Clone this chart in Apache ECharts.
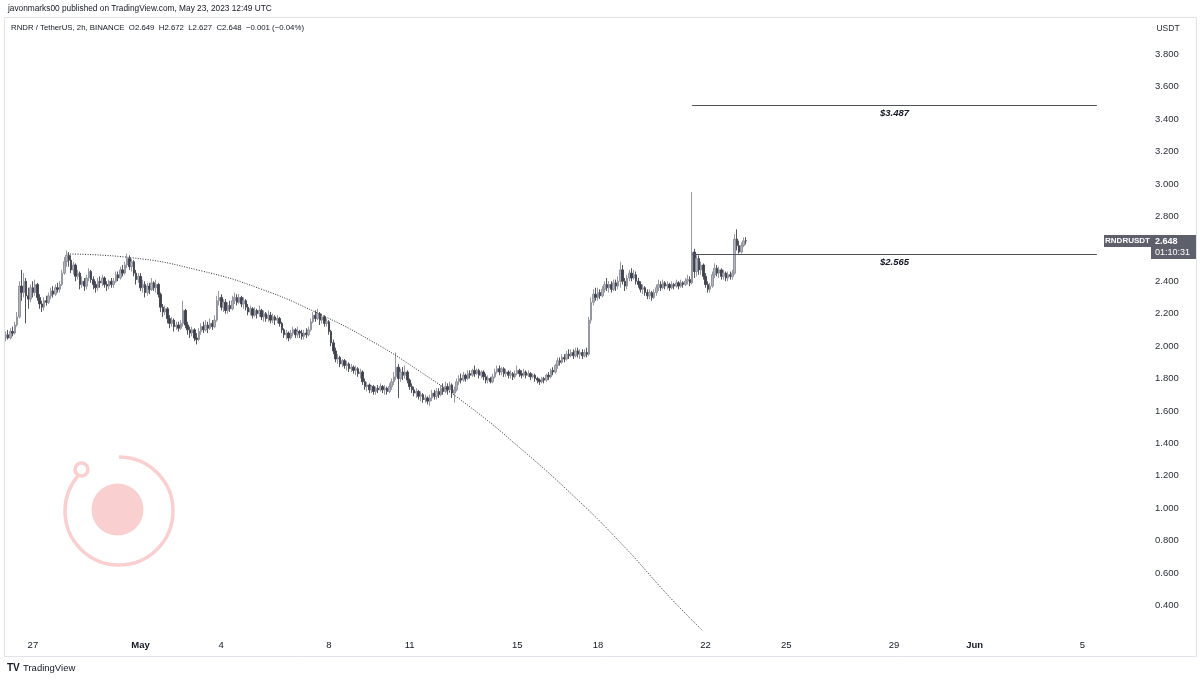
<!DOCTYPE html>
<html><head><meta charset="utf-8">
<script src="https://cdn.jsdelivr.net/npm/echarts@6/dist/echarts.min.js"></script>
<style>html,body{margin:0;padding:0;background:#fff}#c{width:1200px;height:680px}</style>
</head><body><div id="c"></div>
<script>
// 2h candles, hour 0 = 26 Apr 2023 00:00 UTC ; each row = one day, items [open, close, low, high]
const firstHour = 0;
const stepHours = 2;
const candles = [
// Apr 26
[2.05,2.07,2.03,2.09],[2.07,2.05,2.04,2.10],[2.05,2.09,2.04,2.11],[2.09,2.08,2.06,2.12],[2.08,2.13,2.07,2.15],[2.13,2.18,2.12,2.21],
[2.18,2.37,2.17,2.40],[2.37,2.33,2.28,2.47],[2.33,2.40,2.30,2.45],[2.40,2.31,2.14,2.42],[2.31,2.29,2.23,2.36],[2.29,2.36,2.27,2.38],
// Apr 27
[2.36,2.33,2.30,2.40],[2.33,2.38,2.31,2.41],[2.38,2.30,2.28,2.39],[2.30,2.26,2.23,2.32],[2.26,2.24,2.21,2.28],[2.24,2.28,2.22,2.30],
[2.28,2.27,2.25,2.31],[2.27,2.31,2.26,2.33],[2.31,2.34,2.29,2.36],[2.34,2.32,2.30,2.37],[2.32,2.36,2.31,2.38],[2.36,2.35,2.33,2.39],
// Apr 28
[2.35,2.38,2.33,2.40],[2.38,2.45,2.37,2.47],[2.45,2.52,2.44,2.55],[2.52,2.56,2.49,2.59],[2.56,2.53,2.49,2.58],[2.53,2.47,2.45,2.56],
[2.47,2.50,2.44,2.52],[2.50,2.43,2.40,2.51],[2.43,2.45,2.41,2.47],[2.45,2.38,2.35,2.46],[2.38,2.40,2.36,2.43],[2.40,2.37,2.34,2.42],
// Apr 29
[2.37,2.42,2.35,2.44],[2.42,2.46,2.40,2.48],[2.46,2.41,2.39,2.47],[2.41,2.38,2.35,2.43],[2.38,2.36,2.33,2.40],[2.36,2.40,2.34,2.42],
[2.40,2.39,2.36,2.43],[2.39,2.42,2.37,2.44],[2.42,2.38,2.36,2.43],[2.38,2.37,2.34,2.40],[2.37,2.40,2.35,2.41],[2.40,2.38,2.36,2.42],
// Apr 30
[2.38,2.40,2.36,2.42],[2.40,2.44,2.39,2.46],[2.44,2.42,2.40,2.46],[2.42,2.47,2.41,2.49],[2.47,2.45,2.43,2.50],[2.45,2.50,2.44,2.52],
[2.50,2.54,2.48,2.57],[2.54,2.49,2.47,2.56],[2.49,2.52,2.46,2.54],[2.52,2.45,2.43,2.53],[2.45,2.41,2.38,2.47],[2.41,2.43,2.39,2.45],
// May 1
[2.43,2.36,2.34,2.45],[2.36,2.38,2.33,2.41],[2.38,2.33,2.30,2.40],[2.33,2.37,2.31,2.39],[2.37,2.35,2.32,2.39],[2.35,2.39,2.34,2.42],
[2.39,2.36,2.34,2.40],[2.36,2.38,2.33,2.41],[2.38,2.32,2.30,2.39],[2.32,2.24,2.21,2.33],[2.24,2.21,2.18,2.26],[2.21,2.23,2.19,2.25],
// May 2
[2.23,2.17,2.14,2.24],[2.17,2.14,2.11,2.19],[2.14,2.16,2.12,2.18],[2.16,2.12,2.09,2.17],[2.12,2.13,2.10,2.15],[2.13,2.11,2.09,2.15],
[2.11,2.14,2.10,2.16],[2.14,2.22,2.12,2.28],[2.22,2.13,2.11,2.23],[2.13,2.10,2.07,2.15],[2.10,2.08,2.05,2.12],[2.08,2.10,2.06,2.12],
// May 3
[2.10,2.05,2.03,2.11],[2.05,2.04,2.01,2.08],[2.04,2.09,2.03,2.11],[2.09,2.12,2.07,2.14],[2.12,2.10,2.08,2.15],[2.10,2.13,2.09,2.16],
[2.13,2.11,2.08,2.15],[2.11,2.14,2.10,2.17],[2.14,2.12,2.10,2.16],[2.12,2.16,2.11,2.19],[2.16,2.28,2.15,2.31],[2.28,2.30,2.25,2.34],
// May 4
[2.30,2.24,2.22,2.32],[2.24,2.27,2.21,2.29],[2.27,2.22,2.20,2.29],[2.22,2.25,2.20,2.27],[2.25,2.23,2.21,2.28],[2.23,2.28,2.22,2.31],
[2.28,2.30,2.26,2.33],[2.30,2.27,2.25,2.32],[2.27,2.30,2.26,2.32],[2.30,2.26,2.24,2.31],[2.26,2.28,2.23,2.30],[2.28,2.24,2.22,2.29],
// May 5
[2.24,2.21,2.19,2.26],[2.21,2.23,2.19,2.25],[2.23,2.19,2.17,2.24],[2.19,2.22,2.18,2.24],[2.22,2.20,2.17,2.23],[2.20,2.22,2.18,2.25],
[2.22,2.18,2.16,2.23],[2.18,2.20,2.15,2.22],[2.20,2.17,2.15,2.21],[2.17,2.19,2.15,2.22],[2.19,2.16,2.14,2.21],[2.16,2.18,2.14,2.20],
// May 6
[2.18,2.16,2.13,2.19],[2.16,2.17,2.14,2.19],[2.17,2.14,2.12,2.18],[2.14,2.10,2.08,2.15],[2.10,2.07,2.05,2.11],[2.07,2.08,2.04,2.10],
[2.08,2.05,2.03,2.09],[2.05,2.08,2.04,2.10],[2.08,2.10,2.06,2.12],[2.10,2.07,2.05,2.11],[2.07,2.09,2.05,2.12],[2.09,2.08,2.05,2.10],
// May 7
[2.08,2.06,2.04,2.10],[2.06,2.08,2.04,2.10],[2.08,2.07,2.05,2.11],[2.07,2.10,2.06,2.12],[2.10,2.15,2.09,2.17],[2.15,2.19,2.14,2.21],
[2.19,2.17,2.15,2.22],[2.17,2.20,2.16,2.23],[2.20,2.16,2.13,2.21],[2.16,2.18,2.14,2.20],[2.18,2.14,2.12,2.19],[2.14,2.15,2.12,2.17],
// May 8
[2.15,2.09,2.07,2.16],[2.09,2.02,2.00,2.10],[2.02,1.97,1.95,2.04],[1.97,1.92,1.90,1.99],[1.92,1.93,1.89,1.95],[1.93,1.89,1.87,1.94],
[1.89,1.91,1.87,1.92],[1.91,1.88,1.86,1.92],[1.88,1.89,1.85,1.91],[1.89,1.86,1.84,1.90],[1.86,1.87,1.84,1.89],[1.87,1.85,1.83,1.88],
// May 9
[1.85,1.86,1.82,1.88],[1.86,1.83,1.81,1.87],[1.83,1.84,1.80,1.86],[1.84,1.78,1.76,1.85],[1.78,1.75,1.73,1.80],[1.75,1.76,1.72,1.78],
[1.76,1.73,1.71,1.77],[1.73,1.75,1.71,1.76],[1.75,1.72,1.70,1.76],[1.72,1.74,1.70,1.75],[1.74,1.73,1.71,1.76],[1.73,1.75,1.72,1.77],
// May 10
[1.75,1.73,1.71,1.76],[1.73,1.74,1.70,1.76],[1.74,1.72,1.70,1.75],[1.72,1.75,1.71,1.77],[1.75,1.78,1.73,1.80],[1.78,1.81,1.76,1.84],
[1.81,1.87,1.79,1.96],[1.87,1.80,1.68,1.89],[1.80,1.84,1.78,1.86],[1.84,1.82,1.79,1.87],[1.82,1.84,1.80,1.88],[1.84,1.79,1.77,1.85],
// May 11
[1.79,1.75,1.73,1.80],[1.75,1.73,1.71,1.77],[1.73,1.71,1.69,1.75],[1.71,1.72,1.68,1.74],[1.72,1.69,1.67,1.73],[1.69,1.70,1.66,1.72],
[1.70,1.67,1.65,1.71],[1.67,1.68,1.65,1.70],[1.68,1.66,1.64,1.69],[1.66,1.68,1.63,1.70],[1.68,1.71,1.66,1.73],[1.71,1.69,1.67,1.73],
// May 12
[1.69,1.72,1.67,1.74],[1.72,1.70,1.68,1.74],[1.70,1.74,1.69,1.76],[1.74,1.72,1.70,1.77],[1.72,1.75,1.71,1.78],[1.75,1.73,1.70,1.77],
[1.73,1.76,1.71,1.78],[1.76,1.71,1.68,1.77],[1.71,1.73,1.65,1.75],[1.73,1.78,1.72,1.80],[1.78,1.80,1.76,1.82],[1.80,1.79,1.77,1.83],
// May 13
[1.79,1.82,1.78,1.84],[1.82,1.80,1.78,1.83],[1.80,1.83,1.79,1.85],[1.83,1.82,1.80,1.85],[1.82,1.85,1.81,1.86],[1.85,1.83,1.81,1.88],
[1.83,1.85,1.82,1.86],[1.85,1.82,1.80,1.86],[1.82,1.84,1.80,1.85],[1.84,1.81,1.79,1.85],[1.81,1.79,1.77,1.83],[1.79,1.80,1.77,1.82],
// May 14
[1.80,1.78,1.77,1.81],[1.78,1.81,1.77,1.83],[1.81,1.84,1.80,1.86],[1.84,1.86,1.83,1.88],[1.86,1.84,1.82,1.88],[1.84,1.86,1.82,1.87],
[1.86,1.83,1.81,1.87],[1.83,1.84,1.81,1.86],[1.84,1.82,1.80,1.85],[1.82,1.83,1.80,1.85],[1.83,1.81,1.79,1.84],[1.81,1.83,1.80,1.85],
// May 15
[1.83,1.85,1.82,1.88],[1.85,1.83,1.81,1.86],[1.83,1.82,1.80,1.85],[1.82,1.84,1.81,1.86],[1.84,1.82,1.80,1.85],[1.82,1.83,1.81,1.85],
[1.83,1.81,1.79,1.84],[1.81,1.82,1.80,1.83],[1.82,1.80,1.78,1.83],[1.80,1.79,1.77,1.81],[1.79,1.78,1.76,1.80],[1.78,1.80,1.77,1.81],
// May 16
[1.80,1.79,1.77,1.81],[1.79,1.82,1.78,1.83],[1.82,1.81,1.79,1.84],[1.81,1.85,1.80,1.86],[1.85,1.84,1.82,1.87],[1.84,1.88,1.83,1.89],
[1.88,1.91,1.86,1.93],[1.91,1.90,1.88,1.93],[1.90,1.93,1.89,1.95],[1.93,1.92,1.90,1.95],[1.92,1.95,1.91,1.97],[1.95,1.94,1.92,1.98],
// May 17
[1.94,1.96,1.93,1.98],[1.96,1.94,1.92,1.98],[1.94,1.97,1.93,1.99],[1.97,1.95,1.93,1.99],[1.95,1.96,1.92,1.98],[1.96,1.94,1.92,1.98],
[1.94,1.96,1.93,1.98],[1.96,1.95,1.93,1.99],[1.95,2.16,1.94,2.18],[2.16,2.27,2.14,2.30],[2.27,2.32,2.25,2.35],[2.32,2.30,2.28,2.36],
// May 18
[2.30,2.33,2.28,2.36],[2.33,2.31,2.29,2.35],[2.31,2.35,2.30,2.37],[2.35,2.38,2.33,2.40],[2.38,2.36,2.34,2.42],[2.36,2.38,2.33,2.40],
[2.38,2.35,2.33,2.40],[2.35,2.39,2.34,2.41],[2.39,2.37,2.34,2.41],[2.37,2.40,2.35,2.43],[2.40,2.47,2.36,2.52],[2.47,2.40,2.38,2.50],
// May 19
[2.40,2.37,2.34,2.42],[2.37,2.42,2.35,2.44],[2.42,2.45,2.40,2.47],[2.45,2.42,2.40,2.48],[2.42,2.44,2.41,2.47],[2.44,2.40,2.38,2.46],
[2.40,2.38,2.36,2.42],[2.38,2.35,2.33,2.40],[2.35,2.36,2.32,2.38],[2.36,2.33,2.31,2.37],[2.33,2.31,2.29,2.35],[2.31,2.33,2.29,2.35],
// May 20
[2.33,2.30,2.28,2.34],[2.30,2.33,2.29,2.35],[2.33,2.36,2.31,2.38],[2.36,2.38,2.34,2.41],[2.38,2.36,2.34,2.40],[2.36,2.39,2.35,2.41],
[2.39,2.37,2.35,2.40],[2.37,2.38,2.35,2.40],[2.38,2.36,2.34,2.39],[2.36,2.38,2.35,2.40],[2.38,2.37,2.35,2.39],[2.37,2.39,2.36,2.41],
// May 21
[2.39,2.37,2.35,2.40],[2.37,2.39,2.36,2.41],[2.39,2.38,2.36,2.40],[2.38,2.40,2.37,2.42],[2.40,2.41,2.38,2.44],[2.41,2.39,2.37,2.43],
[2.39,2.58,2.38,2.95],[2.58,2.46,2.42,2.60],[2.46,2.54,2.43,2.57],[2.54,2.47,2.44,2.56],[2.47,2.50,2.44,2.52],[2.50,2.43,2.41,2.51],
// May 22
[2.43,2.38,2.36,2.45],[2.38,2.35,2.33,2.40],[2.35,2.37,2.33,2.39],[2.37,2.44,2.36,2.46],[2.44,2.48,2.42,2.51],[2.48,2.45,2.43,2.50],
[2.45,2.47,2.42,2.49],[2.47,2.43,2.41,2.48],[2.43,2.45,2.41,2.47],[2.45,2.42,2.40,2.46],[2.42,2.44,2.40,2.46],[2.44,2.43,2.41,2.46],
// May 23 (to 12:00)
[2.43,2.45,2.41,2.47],[2.45,2.66,2.44,2.69],[2.66,2.62,2.59,2.72],[2.62,2.58,2.57,2.65],[2.58,2.62,2.57,2.64],[2.62,2.649,2.61,2.67],
[2.649,2.648,2.627,2.672]
];

// axis ticks
const priceTicks = [0.4,0.6,0.8,1.0,1.2,1.4,1.6,1.8,2.0,2.2,2.4,2.6,2.8,3.0,3.2,3.4,3.6,3.8];
const timeTickHours = [24,120,192,288,360,456,528,624,696,792,864,960];
const timeTickLabels = ['27','May','4','8','11','15','18','22','25','29','Jun','5'];
const boldTickLabels = ['May','Jun'];

// horizontal levels drawn by the author
const levelPrices = [3.487, 2.565];
const levelLabels = ['$3.487', '$2.565'];
const levelStartHour = 612;
const levelEndHour = 973;

// dotted curve drawn by the author
const curveHours  = [55, 111, 173, 227, 278, 325, 369, 414, 458, 503, 548, 592, 622];
const curvePrices = [2.568, 2.546, 2.466, 2.353, 2.203, 2.035, 1.844, 1.624, 1.374, 1.096, 0.788, 0.451, 0.24];

const lastClose = 2.648;
const headerTitle = 'javonmarks00 published on TradingView.com, May 23, 2023 12:49 UTC';
const legendLine = 'RNDR / TetherUS, 2h, BINANCE  O2.649  H2.672  L2.627  C2.648  \u22120.001 (\u22120.04%)';

const FONT = 'Liberation Sans, Arial, sans-serif';
const TXT = '#131722';

const chart = echarts.init(document.getElementById('c'), null, {renderer: 'canvas'});
const candleData = candles.map((c, i) => [firstHour + i * stepHours, c[0], c[1], c[2], c[3]]);

const levelLines = levelPrices.map((p, i) => [
  {coord: [levelStartHour, p], label: {formatter: levelLabels[i]}},
  {coord: [levelEndHour, p]}
]);

chart.setOption({
  animation: false,
  backgroundColor: '#ffffff',
  grid: {left: 6, right: 102, top: 18, bottom: 48},
  xAxis: {
    type: 'value', min: 0, max: 974,
    axisLine: {show: false}, axisTick: {show: false}, splitLine: {show: false},
    axisLabel: {
      customValues: timeTickHours,
      margin: 8,
      fontFamily: FONT, fontSize: 9.5, color: TXT,
      formatter: v => {
        const k = timeTickHours.indexOf(v);
        if (k < 0) return '';
        const t = timeTickLabels[k];
        return boldTickLabels.includes(t) ? '{b|' + t + '}' : t;
      },
      rich: {b: {fontWeight: 'bold', fontFamily: FONT, fontSize: 9.5, color: TXT}}
    }
  },
  yAxis: {
    type: 'value', position: 'right', min: 0.236, max: 4.024, scale: true,
    axisLine: {show: false}, axisTick: {show: false}, splitLine: {show: false},
    axisLabel: {
      customValues: priceTicks,
      margin: 57,
      fontFamily: FONT, fontSize: 9.5, color: '#2a2e39',
      formatter: v => v.toFixed(3)
    }
  },
  series: [
    {
      type: 'candlestick',
      data: candleData,
      encode: {x: 0, y: [1, 2, 3, 4]},
      barWidth: 2,
      itemStyle: {
        color: '#b2b5bd', borderColor: '#8c8f98',
        color0: '#3f424d', borderColor0: '#3f424d',
        borderWidth: 0.9
      }
    },
    {
      type: 'line',
      data: curveHours.map((h, i) => [h, curvePrices[i]]),
      smooth: 0.5, symbol: 'none',
      lineStyle: {color: '#2e2e2e', width: 1, type: [1, 1.5]},
      z: 3
    },
    {
      type: 'line', data: [], symbol: 'none',
      markLine: {
        silent: true, symbol: 'none',
        lineStyle: {color: '#50535e', width: 1, type: 'solid'},
        label: {
          position: 'insideMiddleBottom', distance: 3,
          fontFamily: FONT, fontSize: 9.5, fontWeight: 'bold', fontStyle: 'italic', color: TXT
        },
        data: levelLines
      }
    }
  ]
});

const yLast = chart.convertToPixel({yAxisIndex: 0}, lastClose);

chart.setOption({
  graphic: [
    {type: 'rect', shape: {x: 4.5, y: 17.5, width: 1192, height: 639}, style: {fill: null, stroke: '#e0e3eb', lineWidth: 1}, silent: true, z: 0},
    {type: 'text', left: 8, top: 5, style: {text: headerTitle, font: '8.3px ' + FONT, fill: TXT}},
    {type: 'text', left: 11, top: 24, style: {text: legendLine, font: '7.8px ' + FONT, fill: TXT}},
    {type: 'text', x: 1168, y: 29, style: {text: 'USDT', font: '8.5px ' + FONT, fill: '#2a2e39', align: 'center', verticalAlign: 'middle'}},
    // price tag
    {type: 'rect', shape: {x: 1104, y: yLast - 6, width: 47, height: 12}, style: {fill: '#5d606b'}, z: 10},
    {type: 'text', x: 1127.5, y: yLast, style: {text: 'RNDRUSDT', font: 'bold 8px ' + FONT, fill: '#fff', align: 'center', verticalAlign: 'middle'}, z: 11},
    {type: 'rect', shape: {x: 1151, y: yLast - 6, width: 45, height: 24}, style: {fill: '#5d606b'}, z: 10},
    {type: 'text', x: 1155, y: yLast, style: {text: '2.648', font: 'bold 9px ' + FONT, fill: '#fff', align: 'left', verticalAlign: 'middle'}, z: 11},
    {type: 'text', x: 1155, y: yLast + 11.5, style: {text: '01:10:31', font: '9px ' + FONT, fill: '#fff', align: 'left', verticalAlign: 'middle'}, z: 11},
    // watermark logo
    {type: 'arc', shape: {cx: 119, cy: 511, r: 54, startAngle: -Math.PI / 2, endAngle: 3.86, clockwise: true}, style: {stroke: '#f9cfcf', lineWidth: 3.5, fill: null}, z: 0},
    {type: 'circle', shape: {cx: 81.5, cy: 469.5, r: 6.5}, style: {stroke: '#f9cfcf', lineWidth: 3.5, fill: '#fff'}, z: 0},
    {type: 'circle', shape: {cx: 117.5, cy: 509.5, r: 26}, style: {fill: '#f9cfcf'}, z: 0},
    // TradingView footer
    {type: 'text', left: 7, top: 663, style: {text: 'TV', font: '900 10px ' + FONT, fill: '#131722'}},
    {type: 'text', left: 23, top: 663, style: {text: 'TradingView', font: '9.5px ' + FONT, fill: '#131722'}}
  ]
});
</script>
</body></html>
